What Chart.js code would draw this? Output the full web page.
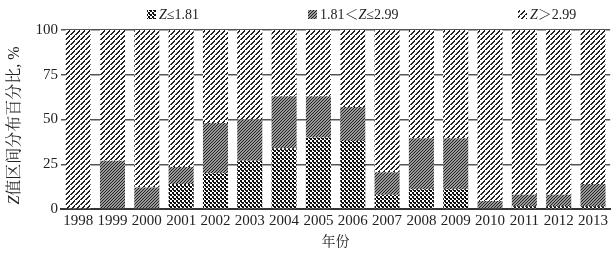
<!DOCTYPE html>
<html lang="zh">
<head>
  <meta charset="UTF-8">
  <title>Z值区间分布</title>
  <script src="https://cdn.jsdelivr.net/npm/chart.js"></script>
  <style>
    html, body { margin: 0; padding: 0; background: #fff; }
    #wrap { width: 611px; height: 255px; position: relative; }
  </style>
</head>
<body>
  <div id="wrap"><canvas id="zChart"></canvas></div>

  <script>
    // 数据
    const years = ['1998','1999','2000','2001','2002','2003','2004','2005','2006','2007','2008','2009','2010','2011','2012','2013'];
    const low  = [0, 0, 0, 14, 20, 27, 34, 40, 38, 8, 11, 11, 0, 1.5, 1.5, 1.5];      // Z≤1.81
    const mid  = [0, 27, 12, 9.5, 28, 23, 29, 23, 19, 12.5, 28.5, 28.5, 4.5, 6.5, 6.5, 12.5]; // 1.81<Z≤2.99
    const high = [100, 73, 88, 76.5, 52, 50, 37, 37, 43, 79.5, 60.5, 60.5, 95.5, 92, 92, 86]; // Z>2.99
    const yTicks = [0, 25, 50, 75, 100];

    const FONT = "'Liberation Serif', 'Noto Serif CJK SC', 'Noto Sans CJK SC', serif";

    // 填充图案
    function makePattern(size, draw) {
      const c = document.createElement('canvas');
      c.width = c.height = size;
      const g = c.getContext('2d');
      draw(g, size);
      return g.createPattern(c, 'repeat');
    }
    const patLow = makePattern(4, function (g) {
      g.fillStyle = '#fff'; g.fillRect(0, 0, 4, 4);
      g.fillStyle = '#111';
      g.fillRect(0, 0, 2, 2); g.fillRect(2, 2, 2, 2);
      g.fillRect(1, 2, 1, 1);
    });
    const patMid = makePattern(3, function (g) {
      g.fillStyle = '#999'; g.fillRect(0, 0, 3, 3);
      g.fillStyle = '#222';
      for (let i = 0; i < 3; i++) g.fillRect(i, 2 - i, 1, 1);
    });
    const patHigh = makePattern(5, function (g) {
      g.fillStyle = '#fff'; g.fillRect(0, 0, 5, 5);
      g.fillStyle = '#222';
      for (let i = 0; i < 5; i++) g.fillRect(i, 4 - i, 2, 1);
    });

    // 图例与坐标轴标题（含斜体 Z）
    function drawRich(ctx, parts, x, y, size) {
      let cx = x;
      parts.forEach(function (p) {
        ctx.font = (p.it ? 'italic ' : '') + size + 'px ' + FONT;
        ctx.fillText(p.t, cx, y);
        cx += ctx.measureText(p.t).width;
      });
      return cx - x;
    }
    const legendItems = [
      { fill: patLow,  x: 147, parts: [{ t: 'Z', it: true }, { t: '≤1.81' }] },
      { fill: patMid,  x: 308, parts: [{ t: '1.81＜' }, { t: 'Z', it: true }, { t: '≤2.99' }] },
      { fill: patHigh, x: 518, parts: [{ t: 'Z', it: true }, { t: '＞2.99' }] }
    ];
    const extras = {
      id: 'extras',
      afterDraw(chart) {
        const ctx = chart.ctx;
        ctx.save();
        ctx.textBaseline = 'middle';
        legendItems.forEach(function (it) {
          ctx.fillStyle = it.fill;
          ctx.fillRect(it.x, 10, 9, 9);
          ctx.fillStyle = '#222';
          drawRich(ctx, it.parts, it.x + 12, 15, 14);
        });
        // y 轴标题
        const parts = [{ t: 'Z', it: true }, { t: '值区间分布百分比, %' }];
        let w = 0;
        parts.forEach(function (p) {
          ctx.font = (p.it ? 'italic ' : '') + '16px ' + FONT;
          w += ctx.measureText(p.t).width;
        });
        ctx.translate(15, (chart.chartArea.top + chart.chartArea.bottom) / 2 + 6);
        ctx.rotate(-Math.PI / 2);
        drawRich(ctx, parts, -w / 2, 0, 16);
        ctx.restore();
      }
    };

    new Chart(document.getElementById('zChart'), {
      type: 'bar',
      data: {
        labels: years,
        datasets: [
          { label: 'Z≤1.81', data: low, backgroundColor: patLow },
          { label: '1.81<Z≤2.99', data: mid, backgroundColor: patMid },
          { label: 'Z>2.99', data: high, backgroundColor: patHigh }
        ]
      },
      options: {
        responsive: true,
        maintainAspectRatio: false,
        animation: false,
        layout: { padding: { top: 30, right: 0, left: 0, bottom: 0 } },
        datasets: { bar: { barPercentage: 0.73, categoryPercentage: 1 } },
        plugins: { legend: { display: false }, tooltip: { enabled: false } },
        scales: {
          x: {
            stacked: true,
            grid: { display: false, drawTicks: false },
            border: { color: '#333', width: 2 },
            ticks: { color: '#222', font: { family: FONT, size: 15 }, padding: 3, maxRotation: 0, autoSkip: false },
            title: { display: true, text: '年份', color: '#222', font: { family: FONT, size: 14 }, padding: { top: 5 } },
            afterFit(scale) { scale.height = 46; }
          },
          y: {
            stacked: true,
            min: 0, max: 100,
            afterBuildTicks(scale) { scale.ticks = yTicks.map(v => ({ value: v })); },
            grid: { color: '#555', lineWidth: 1.5, drawTicks: false },
            border: { display: false },
            ticks: { color: '#222', font: { family: FONT, size: 15 }, padding: 3 },
            afterFit(scale) { scale.width = 61; }
          }
        }
      },
      plugins: [extras]
    });
  </script>
</body>
</html>
